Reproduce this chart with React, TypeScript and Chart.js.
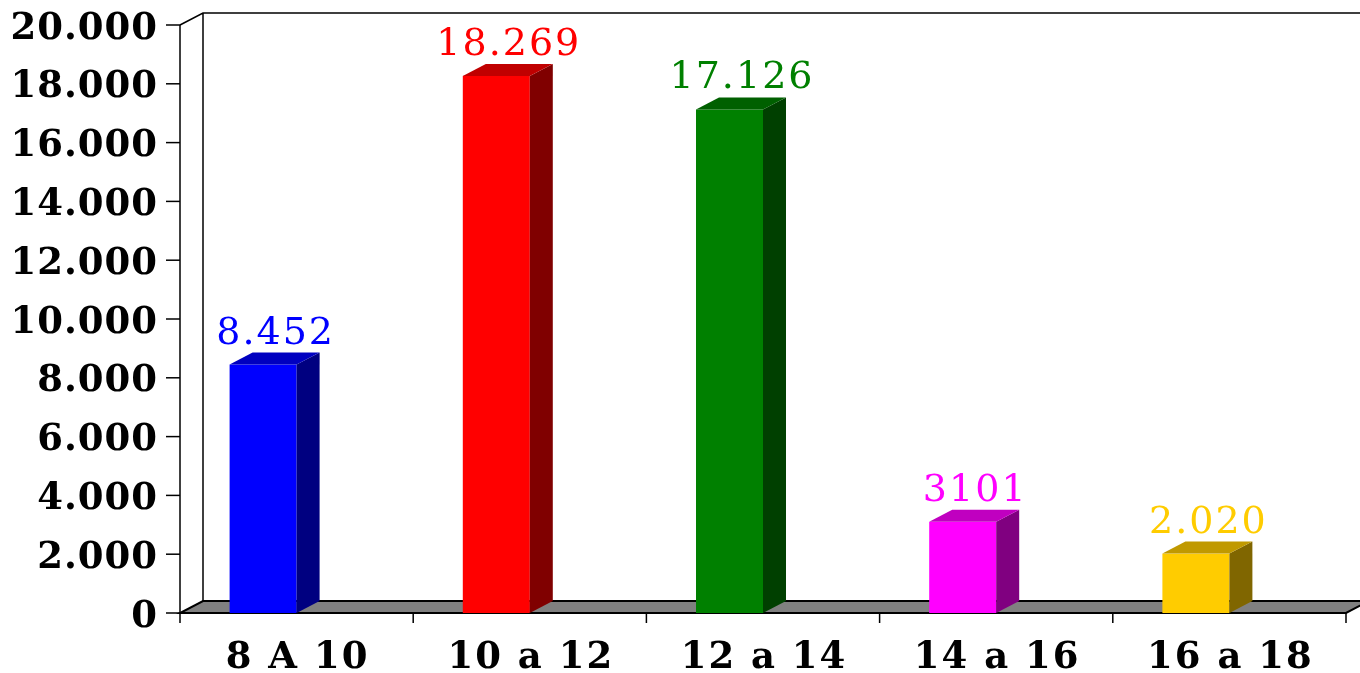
import React, { useEffect, useRef } from "react";
import { Chart, registerables } from "chart.js";

Chart.register(...registerables);

// Age bands and counts
const categories = ["8 A 10", "10 a 12", "12 a 14", "14 a 16", "16 a 18"];
const values = [8452, 18269, 17126, 3101, 2020];
const valueLabels = ["8.452", "18.269", "17.126", "3101", "2.020"];

// Value axis
const yMax = 20000;
const yStep = 2000;
const yTickLabels = ["0", "2.000", "4.000", "6.000", "8.000", "10.000", "12.000", "14.000", "16.000", "18.000", "20.000"];

// Face colours per bar: front, right side, top
const frontColors = ["#0000FF", "#FF0000", "#008000", "#FF00FF", "#FFCC00"];
const sideColors = ["#000080", "#800000", "#004000", "#800080", "#806600"];
const topColors = ["#0000C0", "#C00000", "#006000", "#C000C0", "#C09900"];

// Depth of the 3D projection
const DX = 23;
const DY = -12;

const AXIS_FONT = 'bold 37px "DejaVu Serif"';
const VALUE_FONT = '38px "DejaVu Serif"';

function setSpacing(ctx: any, px: number) {
  if ("letterSpacing" in ctx) ctx.letterSpacing = px + "px";
}

const box3d = {
  id: "box3d",
  beforeDatasetsDraw() {
    // bars are rendered as boxes in afterDraw
    return false;
  },
  afterDraw(chart: any) {
    const ctx: CanvasRenderingContext2D = chart.ctx;
    const xs = chart.scales.x;
    const ys = chart.scales.y;
    const y0 = ys.getPixelForValue(0);
    const yTop = ys.getPixelForValue(yMax);
    const step = xs.getPixelForValue(1) - xs.getPixelForValue(0);
    const xL = xs.getPixelForValue(0) - step / 2;
    const xR = xs.getPixelForValue(categories.length - 1) + step / 2;

    ctx.save();
    ctx.lineCap = "butt";
    ctx.lineJoin = "miter";

    // back wall outline
    ctx.strokeStyle = "#000";
    ctx.lineWidth = 1.5;
    ctx.beginPath();
    ctx.moveTo(xL, yTop);
    ctx.lineTo(xL + DX, yTop + DY);
    ctx.lineTo(chart.width, yTop + DY);
    ctx.moveTo(xL + DX, yTop + DY);
    ctx.lineTo(xL + DX, y0 + DY);
    ctx.stroke();

    // floor
    ctx.beginPath();
    ctx.moveTo(xL, y0);
    ctx.lineTo(xR, y0);
    ctx.lineTo(xR + DX, y0 + DY);
    ctx.lineTo(xL + DX, y0 + DY);
    ctx.closePath();
    ctx.fillStyle = "#808080";
    ctx.fill();
    ctx.lineWidth = 2;
    ctx.stroke();

    // bars as boxes
    const meta = chart.getDatasetMeta(0);
    meta.data.forEach((bar: any, i: number) => {
      const { x, y, width, base } = bar.getProps(["x", "y", "width", "base"], true);
      const l = x - width;
      const r = x;
      // front
      ctx.fillStyle = frontColors[i];
      ctx.fillRect(l, y, width, base - y);
      // side
      ctx.beginPath();
      ctx.moveTo(r, y);
      ctx.lineTo(r + DX, y + DY);
      ctx.lineTo(r + DX, base + DY);
      ctx.lineTo(r, base);
      ctx.closePath();
      ctx.fillStyle = sideColors[i];
      ctx.fill();
      // top
      ctx.beginPath();
      ctx.moveTo(l, y);
      ctx.lineTo(l + DX, y + DY);
      ctx.lineTo(r + DX, y + DY);
      ctx.lineTo(r, y);
      ctx.closePath();
      ctx.fillStyle = topColors[i];
      ctx.fill();

      // value label
      ctx.font = VALUE_FONT;
      setSpacing(ctx, 2);
      ctx.fillStyle = frontColors[i];
      ctx.textAlign = "center";
      ctx.textBaseline = "alphabetic";
      ctx.fillText(valueLabels[i], l + width / 2 + DX / 2 + 1, y - 21);
    });

    // front value axis
    ctx.strokeStyle = "#000";
    ctx.lineWidth = 1.5;
    ctx.beginPath();
    ctx.moveTo(xL, yTop);
    ctx.lineTo(xL, y0);
    ctx.stroke();

    ctx.font = AXIS_FONT;
    setSpacing(ctx, 1);
    ctx.fillStyle = "#000";
    ctx.textAlign = "right";
    ctx.textBaseline = "alphabetic";
    yTickLabels.forEach((label, k) => {
      const py = ys.getPixelForValue(k * yStep);
      ctx.beginPath();
      ctx.moveTo(xL - 14, py);
      ctx.lineTo(xL, py);
      ctx.stroke();
      ctx.fillText(label, xL - 22, py + 13.5);
    });

    // category ticks and labels
    ctx.beginPath();
    for (let k = 0; k <= categories.length; k++) {
      const px = xL + k * step;
      ctx.moveTo(px, y0);
      ctx.lineTo(px, y0 + 10);
    }
    ctx.stroke();

    setSpacing(ctx, 2);
    ctx.textAlign = "center";
    categories.forEach((c, i) => {
      ctx.fillText(c, xs.getPixelForValue(i) + 1, y0 + 55);
    });

    ctx.restore();
  },
};

export default function App() {
  const canvasRef = useRef<HTMLCanvasElement | null>(null);

  useEffect(() => {
    const canvas = canvasRef.current;
    if (!canvas) return;
    const chart = new Chart(canvas, {
      type: "bar",
      data: {
        labels: categories,
        datasets: [
          {
            data: values,
            backgroundColor: frontColors,
            barThickness: 67,
          },
        ],
      },
      options: {
        responsive: false,
        animation: false,
        devicePixelRatio: 1,
        layout: { padding: { left: 180, right: 14, top: 25, bottom: 60 } },
        plugins: { legend: { display: false }, tooltip: { enabled: false } },
        scales: {
          x: { display: false, offset: true },
          y: { display: false, min: 0, max: yMax, ticks: { stepSize: yStep } },
        },
      },
      plugins: [box3d],
    });
    return () => chart.destroy();
  }, []);

  return (
    <div style={{ position: "absolute", left: 0, top: 0, width: 1360, height: 673, background: "#fff" }}>
      <canvas ref={canvasRef} width={1360} height={673} />
    </div>
  );
}
